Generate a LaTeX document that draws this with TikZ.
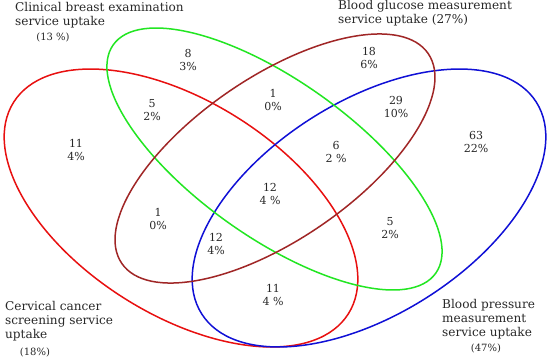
\documentclass[tikz,border=0pt]{standalone}
\usepackage{fontspec}
\setmainfont{DejaVu Serif}
\definecolor{cred}{RGB}{232,16,16}
\definecolor{cgreen}{RGB}{34,230,34}
\definecolor{cbrown}{RGB}{160,38,38}
\definecolor{cblue}{RGB}{16,16,214}
\definecolor{ctext}{RGB}{40,40,40}
\begin{document}
\begin{tikzpicture}[x=1pt,y=-1pt,
  venn/.style={line width=1.5pt},
  num/.style={align=center,inner sep=0pt,text=ctext,font=\fontsize{11}{13.5}\selectfont},
  title/.style={align=left,inner sep=0pt,text=ctext,anchor=north west,font=\fontsize{12.1}{14}\selectfont},
  pct/.style={inner sep=0pt,text=ctext,font=\fontsize{10}{12}\selectfont}]
\useasboundingbox (0,0) rectangle (550,360);
\fill[white] (0,0) rectangle (550,360);
% red (cervical)
\draw[cred,venn,rotate around={-32.3:(181,208)}] (181,208) ellipse [x radius=198,y radius=106.6];
% blue (blood pressure)
\draw[cblue,venn,rotate around={32.3:(369,208)}] (369,208) ellipse [x radius=198,y radius=106.6];
% green (breast)
\draw[cgreen,venn,rotate around={-35.3:(274.5,159)}] (274.5,159) ellipse [x radius=197.6,y radius=78.6];
% brown (glucose)
\draw[cbrown,venn,rotate around={34.4:(275,158.5)}] (275,158.5) ellipse [x radius=185.7,y radius=81.3];
% titles
\node[title] (tbreast) at (15,2) {Clinical breast examination\\service uptake};
\node[pct] (pbreast) at (53,37) {(13 \%)};
\node[title] (tglucose) at (338,0) {Blood glucose measurement\\service uptake (27\%)};
\node[title] (tcervical) at (5,301) {Cervical cancer\\screening service\\uptake};
\node[pct] (pcervical) at (35,352) {(18\%)};
\node[title] (tpressure) at (442,299) {Blood pressure\\measurement\\service uptake};
\node[pct] (ppressure) at (486,348) {(47\%)};
% counts
\node[num] (n1) at (188,60) {8\\3\%};
\node[num] (n2) at (369,58) {18\\6\%};
\node[num] (n3) at (152,110) {5\\2\%};
\node[num] (n4) at (273,100) {1\\0\%};
\node[num] (n5) at (396,107) {29\\10\%};
\node[num] (n6) at (76,150) {11\\4\%};
\node[num] (n7) at (476,142) {63\\22\%};
\node[num] (n8) at (336,152) {6\\2 \%};
\node[num] (n9) at (270,194) {12\\4 \%};
\node[num] (n10) at (158,219) {1\\0\%};
\node[num] (n11) at (216,244) {12\\4\%};
\node[num] (n12) at (390,228) {5\\2\%};
\node[num] (n13) at (273,295) {11\\4 \%};
\end{tikzpicture}
\end{document}
